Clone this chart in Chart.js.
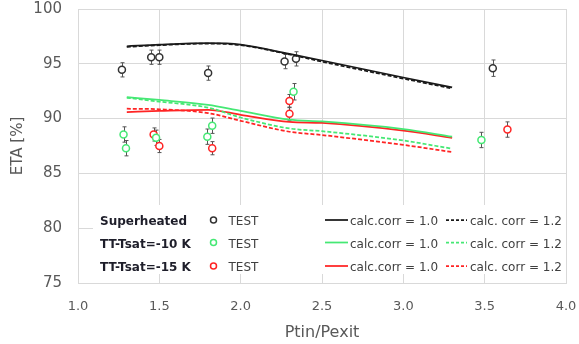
<!DOCTYPE html>
<html>
<head>
<meta charset="utf-8">
<script src="https://cdn.jsdelivr.net/npm/chart.js@4.4.1/dist/chart.umd.min.js"></script>
<style>
  html, body { margin: 0; padding: 0; background: #fff; }
  #wrap { width: 579px; height: 344px; }
</style>
</head>
<body>
<div id="wrap"><canvas id="etaChart" width="579" height="344"></canvas></div>
<script>
// test points (x = Ptin/Pexit, y = ETA %, err = +/- error bar)
const superX = [1.27, 1.45, 1.50, 1.80, 2.27, 2.34, 3.55];
const superY = [94.45, 95.6, 95.6, 94.15, 95.2, 95.45, 94.6];
const superErr = [0.65, 0.65, 0.65, 0.65, 0.65, 0.65, 0.75];

const tsat10X = [1.28, 1.295, 1.48, 1.795, 1.825, 2.325, 3.48];
const tsat10Y = [88.55, 87.3, 88.25, 88.35, 89.35, 92.45, 88.05];
const tsat10Err = [0.7, 0.7, 0.7, 0.7, 0.7, 0.75, 0.7];

const tsat15X = [1.465, 1.50, 1.825, 2.30, 2.30, 3.64];
const tsat15Y = [88.55, 87.5, 87.3, 91.6, 90.45, 89.0];
const tsat15Err = [0.6, 0.6, 0.6, 0.6, 0.6, 0.7];

// calculated curves
const calcX = [1.3, 1.5, 1.8, 2.0, 2.3, 2.5, 3.0, 3.3];
const superCorr10 = [96.6, 96.75, 96.88, 96.75, 95.9, 95.3, 93.75, 92.85];
const superCorr12 = [96.55, 96.7, 96.85, 96.7, 95.85, 95.2, 93.65, 92.75];
const tsat10Corr10 = [91.95, 91.7, 91.25, 90.7, 89.9, 89.75, 89.05, 88.35];
const tsat10Corr12 = [91.9, 91.55, 91.0, 90.1, 89.1, 88.85, 88.0, 87.25];
const tsat15Corr10 = [90.6, 90.7, 90.8, 90.35, 89.7, 89.6, 88.9, 88.25];
const tsat15Corr12 = [90.9, 90.85, 90.5, 89.8, 88.8, 88.5, 87.6, 86.95];

const xTicks = [1.0, 1.5, 2.0, 2.5, 3.0, 3.5, 4.0];
const yTicks = [75, 80, 85, 90, 95, 100];

const BLACK = '#1a1a1a';
const GREEN = '#45e874';
const RED = '#ff2424';

function pts(xs, ys) {
    return xs.map((x, i) => ({ x: x, y: ys[i] }));
}

function calcLine(ys, color, dashed) {
    return {
        type: 'line',
        data: pts(calcX, ys),
        borderColor: color,
        borderWidth: 1.75,
        borderDash: dashed ? [4, 2] : [],
        pointRadius: 0,
        cubicInterpolationMode: 'monotone',
        fill: false
    };
}

function testSeries(xs, ys, errs, color) {
    return {
        type: 'scatter',
        data: pts(xs, ys),
        errors: errs,
        borderColor: color,
        backgroundColor: '#fff',
        borderWidth: 1.5,
        pointRadius: 3.5,
        pointHoverRadius: 3.5
    };
}

// white box behind the legend + error bars under the markers
const errorBars = {
    id: 'errorBars',
    beforeDatasetsDraw(chart) {
        const { ctx, chartArea: a, scales: { x, y } } = chart;
        ctx.save();
        ctx.fillStyle = '#fff';
        ctx.fillRect(a.left + 15, 205, a.right - a.left - 15, 69);
        ctx.strokeStyle = '#555';
        ctx.lineWidth = 1;
        chart.data.datasets.forEach(ds => {
            if (!ds.errors) return;
            ds.data.forEach((p, i) => {
                const px = Math.round(x.getPixelForValue(p.x)) + 0.5;
                const top = y.getPixelForValue(p.y + ds.errors[i]);
                const bot = y.getPixelForValue(p.y - ds.errors[i]);
                ctx.beginPath();
                ctx.moveTo(px, top); ctx.lineTo(px, bot);
                ctx.moveTo(px - 2, top); ctx.lineTo(px + 2, top);
                ctx.moveTo(px - 2, bot); ctx.lineTo(px + 2, bot);
                ctx.stroke();
            });
        });
        ctx.restore();
    }
};

const legendRows = [
    { label: 'Superheated', color: BLACK },
    { label: 'TT-Tsat=-10 K', color: GREEN },
    { label: 'TT-Tsat=-15 K', color: RED }
];

const customLegend = {
    id: 'customLegend',
    afterDraw(chart) {
        const ctx = chart.ctx;
        const rowY = [220, 242.5, 266];
        ctx.save();
        ctx.textBaseline = 'alphabetic';
        legendRows.forEach((row, i) => {
            const cy = rowY[i];
            const base = cy + 5;
            ctx.font = 'bold 12px "DejaVu Sans"';
            ctx.fillStyle = '#1e1e2a';
            ctx.fillText(row.label, 100, base);

            ctx.beginPath();
            ctx.arc(213.5, cy, 3, 0, Math.PI * 2);
            ctx.strokeStyle = row.color === BLACK ? '#333' : row.color;
            ctx.lineWidth = 1.5;
            ctx.stroke();

            ctx.font = '12px "DejaVu Sans"';
            ctx.fillStyle = '#404040';
            ctx.fillText('TEST', 228.5, base);

            ctx.strokeStyle = row.color;
            ctx.lineWidth = 1.75;
            ctx.setLineDash([]);
            ctx.beginPath();
            ctx.moveTo(325, cy); ctx.lineTo(348, cy);
            ctx.stroke();
            ctx.fillText('calc.corr = 1.0', 350, base);

            ctx.setLineDash([3, 2]);
            ctx.beginPath();
            ctx.moveTo(446, cy); ctx.lineTo(467, cy);
            ctx.stroke();
            ctx.setLineDash([]);
            ctx.fillText('calc. corr = 1.2', 470, base);
        });
        ctx.restore();
    }
};

new Chart(document.getElementById('etaChart'), {
    data: {
        datasets: [
            calcLine(superCorr10, BLACK, false),
            calcLine(superCorr12, BLACK, true),
            calcLine(tsat10Corr10, GREEN, false),
            calcLine(tsat10Corr12, GREEN, true),
            calcLine(tsat15Corr10, RED, false),
            calcLine(tsat15Corr12, RED, true),
            testSeries(superX, superY, superErr, '#333'),
            testSeries(tsat10X, tsat10Y, tsat10Err, GREEN),
            testSeries(tsat15X, tsat15Y, tsat15Err, RED)
        ]
    },
    options: {
        responsive: false,
        animation: false,
        layout: { padding: { top: 9, right: 13, left: 0, bottom: 0 } },
        plugins: {
            legend: { display: false },
            tooltip: { enabled: false }
        },
        scales: {
            x: {
                type: 'linear',
                min: 1, max: 4,
                afterFit: s => {
                    s.height = 61;
                    s.paddingLeft = 0;
                    s.paddingRight = 0;
                },
                afterBuildTicks: s => { s.ticks = xTicks.map(v => ({ value: v })); },
                grid: { color: '#d9d9d9', lineWidth: 1, drawTicks: false },
                border: { color: '#d9d9d9' },
                ticks: {
                    padding: 16,
                    color: '#595959',
                    font: { family: 'DejaVu Sans', size: 13 },
                    callback: v => v.toFixed(1)
                },
                title: {
                    display: true,
                    text: 'Ptin/Pexit',
                    color: '#595959',
                    font: { family: 'DejaVu Sans', size: 16 },
                    padding: { top: 0, bottom: 2 }
                }
            },
            y: {
                min: 75, max: 100,
                afterFit: s => {
                    s.width = 78;
                    s.paddingTop = 0;
                    s.paddingBottom = 0;
                },
                afterBuildTicks: s => { s.ticks = yTicks.map(v => ({ value: v })); },
                grid: { color: '#d9d9d9', lineWidth: 1, drawTicks: false },
                border: { color: '#d9d9d9' },
                ticks: {
                    padding: 16,
                    color: '#595959',
                    font: { family: 'DejaVu Sans', size: 15 }
                },
                title: {
                    display: true,
                    text: 'ETA [%]',
                    color: '#595959',
                    font: { family: 'DejaVu Sans', size: 15 },
                    padding: { top: 9, bottom: 0 }
                }
            }
        }
    },
    plugins: [errorBars, customLegend]
});
</script>
</body>
</html>
